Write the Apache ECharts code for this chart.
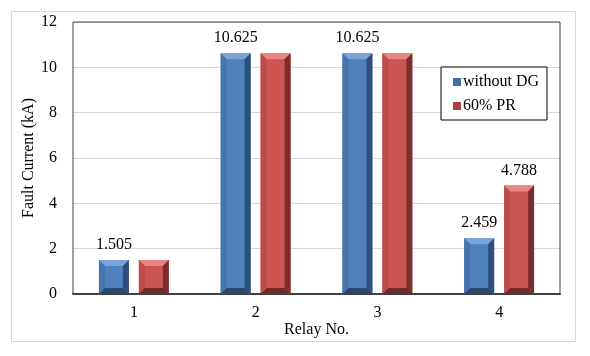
<!DOCTYPE html>
<html>
<head>
<meta charset="utf-8">
<script src="https://cdn.jsdelivr.net/npm/echarts@6/dist/echarts.min.js"></script>
<style>
    html, body { margin: 0; padding: 0; background: #fff; }
    #main { width: 590px; height: 356px; }
</style>
</head>
<body>
<div id="main"></div>
<script type="text/javascript">
    // data
    var relays = ['1', '2', '3', '4'];
    var withoutDG = [1.505, 10.625, 10.625, 2.459];
    var pr60 = [1.505, 10.625, 10.625, 4.788];
    var withoutDGLabels = ['1.505', '10.625', '10.625', '2.459'];
    var pr60Labels = ['', '', '', '4.788'];
    var yTicks = [0, 2, 4, 6, 8, 10, 12];

    var font = '"Liberation Serif", "Times New Roman", serif';

    // bevel colours: face, top, left, right, bottom
    var blueBevel = ['#4f81bd', '#7aa3d8', '#4674ad', '#2f4f7a', '#2a4770'];
    var redBevel = ['#cc5552', '#e78583', '#bb4c49', '#7a2f2d', '#6e2a28'];

    function bevelRender(offset, cols, labels) {
        return function (params, api) {
            var idx = api.value(0);
            var top = api.coord([idx, api.value(1)]);
            var base = api.coord([idx, 0]);
            var band = api.size([1, 0])[0];
            var w = band * 0.246;
            var cx = top[0] + offset * band;
            var x0 = cx - w / 2, x1 = cx + w / 2, y0 = top[1], y1 = base[1];
            var b = Math.min(6, (y1 - y0) / 2);
            var children = [
                {type: 'rect', shape: {x: x0, y: y0, width: w, height: y1 - y0}, style: {fill: cols[0]}},
                {type: 'polygon', shape: {points: [[x0, y0], [x1, y0], [x1 - b, y0 + b], [x0 + b, y0 + b]]}, style: {fill: cols[1]}},
                {type: 'polygon', shape: {points: [[x0, y0], [x0 + b, y0 + b], [x0 + b, y1 - b], [x0, y1]]}, style: {fill: cols[2]}},
                {type: 'polygon', shape: {points: [[x1, y0], [x1, y1], [x1 - b, y1 - b], [x1 - b, y0 + b]]}, style: {fill: cols[3]}},
                {type: 'polygon', shape: {points: [[x0, y1], [x0 + b, y1 - b], [x1 - b, y1 - b], [x1, y1]]}, style: {fill: cols[4]}}
            ];
            var txt = labels[params.dataIndex];
            if (txt) {
                children.push({
                    type: 'text',
                    style: {
                        text: txt, x: cx, y: y0 - 7,
                        align: 'center', verticalAlign: 'bottom',
                        font: '16px ' + font, fill: '#000'
                    }
                });
            }
            return {type: 'group', children: children};
        };
    }

    function toPairs(arr) {
        var out = [];
        for (var i = 0; i < arr.length; i++) {
            out.push([i, arr[i]]);
        }
        return out;
    }

    var chart = echarts.init(document.getElementById('main'));
    var options = {
        animation: false,
        backgroundColor: '#fff',
        graphic: [{
            type: 'rect', z: -10,
            shape: {x: 11.5, y: 11.5, width: 564, height: 330},
            style: {fill: 'none', stroke: '#d9d9d9', lineWidth: 1}
        }],
        grid: {
            left: 73, right: 30, top: 22, bottom: 62, z: 10,
            show: true, borderColor: '#404040', borderWidth: 1
        },
        legend: {
            orient: 'vertical',
            left: 441, top: 67,
            padding: [7, 8, 6, 12],
            itemGap: 8,
            itemWidth: 8, itemHeight: 8,
            icon: 'rect',
            borderColor: '#000', borderWidth: 1,
            backgroundColor: '#fff',
            textStyle: {fontFamily: font, fontSize: 16, color: '#000', padding: [0, 0, 0, -3]},
            data: ['without DG', '60% PR']
        },
        xAxis: {
            type: 'category',
            data: relays,
            name: 'Relay No.',
            nameLocation: 'middle',
            nameGap: 28,
            nameMoveOverlap: false,
            nameTextStyle: {fontFamily: font, fontSize: 16, color: '#000'},
            axisLine: {lineStyle: {color: '#404040', width: 2}},
            axisTick: {show: false},
            axisLabel: {fontFamily: font, fontSize: 16, color: '#000', margin: 11}
        },
        yAxis: {
            type: 'value',
            min: yTicks[0],
            max: yTicks[yTicks.length - 1],
            interval: 2,
            name: 'Fault Current (kA)',
            nameLocation: 'middle',
            nameGap: 36,
            nameMoveOverlap: false,
            nameTextStyle: {fontFamily: font, fontSize: 16, color: '#000'},
            axisLine: {show: false},
            axisTick: {show: false},
            axisLabel: {fontFamily: font, fontSize: 16, color: '#000', margin: 16},
            splitLine: {lineStyle: {color: '#d9d9d9', width: 1}}
        },
        series: [{
            name: 'without DG',
            type: 'custom',
            itemStyle: {color: '#3f6ea8'},
            renderItem: bevelRender(-0.164, blueBevel, withoutDGLabels),
            encode: {x: 0, y: 1},
            data: toPairs(withoutDG)
        }, {
            name: '60% PR',
            type: 'custom',
            itemStyle: {color: '#a8403d'},
            renderItem: bevelRender(0.164, redBevel, pr60Labels),
            encode: {x: 0, y: 1},
            data: toPairs(pr60)
        }]
    };
    chart.setOption(options);
</script>
</body>
</html>
